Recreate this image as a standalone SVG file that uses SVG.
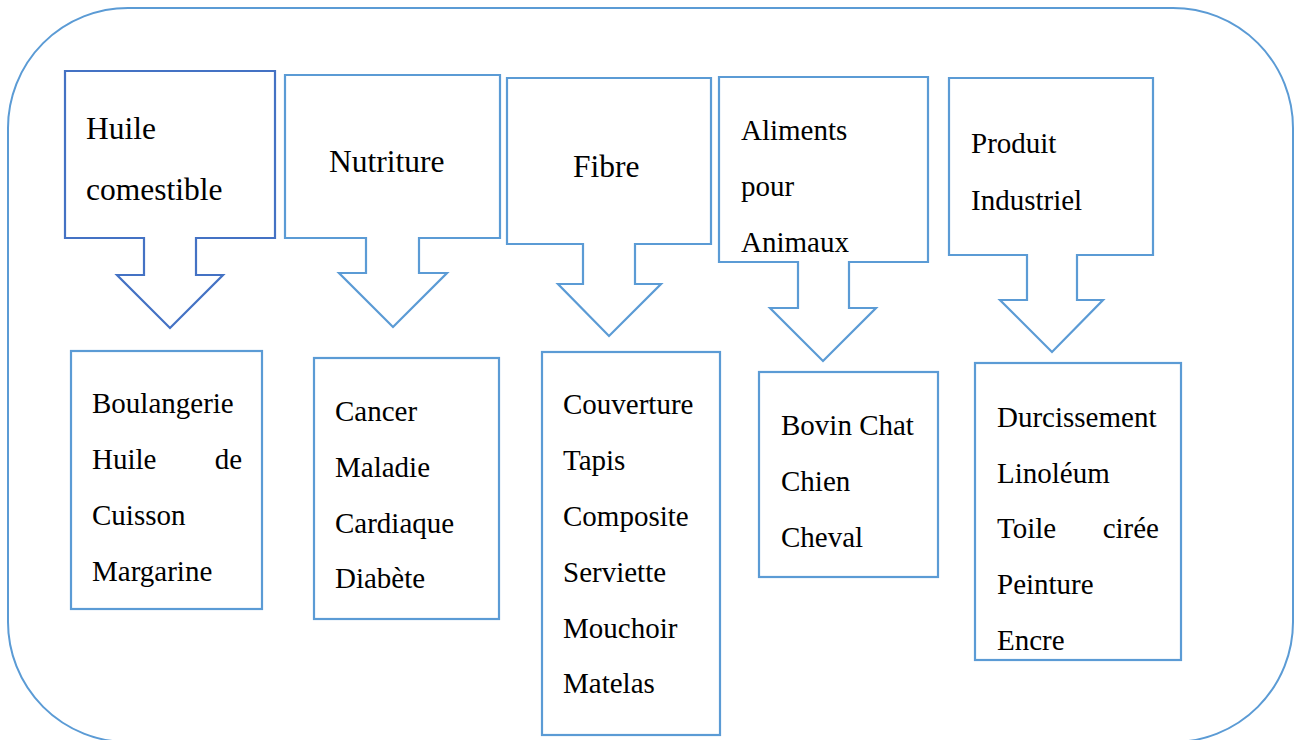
<svg xmlns="http://www.w3.org/2000/svg" width="1294" height="740" viewBox="0 0 1294 740">
<style>
.frame{fill:none;stroke:#5B9BD5;stroke-width:2}
.box{fill:#fff;stroke:#5B9BD5;stroke-width:2.2}
.dark{stroke:#4472C4}
.t{font-family:"Liberation Serif","Times New Roman",serif;font-size:29px;fill:#000}
.big{font-size:31.5px}
</style>
<rect class="frame" x="8" y="8" width="1285" height="734" rx="120" ry="120"/>
<g id="connectors"/>
<g id="callout-huile">
<path class="box dark" d="M65,71 H275 V238 H196 V275 H223 L170,328 L117,275 H144 V238 H65 Z"/>
<text class="t big" x="86" y="139">Huile</text>
<text class="t big" x="86" y="200">comestible</text>
</g>
<g id="callout-nutriture">
<path class="box" d="M285,75 H500 V238 H419 V273 H447 L393,327 L339,273 H366 V238 H285 Z"/>
<text class="t big" x="329" y="172">Nutriture</text>
</g>
<g id="callout-fibre">
<path class="box" d="M507,78 H711 V244 H635 V284 H661 L609,336 L558,284 H583 V244 H507 Z"/>
<text class="t big" x="573" y="177">Fibre</text>
</g>
<g id="callout-aliments">
<path class="box" d="M719,77 H928 V262 H849 V308 H876 L823,361 L770,308 H798 V262 H719 Z"/>
<text class="t" x="741" y="140">Aliments</text>
<text class="t" x="741" y="196">pour</text>
<text class="t" x="741" y="252">Animaux</text>
</g>
<g id="callout-produit">
<path class="box" d="M949,78 H1153 V255 H1077 V300 H1103 L1052,352 L1000,300 H1027 V255 H949 Z"/>
<text class="t" x="971" y="153">Produit</text>
<text class="t" x="971" y="210">Industriel</text>
</g>
<g id="box-huile">
<rect class="box" x="71" y="351" width="191" height="258"/>
<text class="t" x="92" y="413">Boulangerie</text>
<text class="t" x="92" y="469">Huile</text>
<text class="t" x="242" y="469" text-anchor="end">de</text>
<text class="t" x="92" y="525">Cuisson</text>
<text class="t" x="92" y="581">Margarine</text>
</g>
<g id="box-nutriture">
<rect class="box" x="314" y="358" width="185" height="261"/>
<text class="t" x="335" y="421">Cancer</text>
<text class="t" x="335" y="477">Maladie</text>
<text class="t" x="335" y="533">Cardiaque</text>
<text class="t" x="335" y="588">Diabète</text>
</g>
<g id="box-fibre">
<rect class="box" x="542" y="352" width="178" height="383"/>
<text class="t" x="563" y="414">Couverture</text>
<text class="t" x="563" y="470">Tapis</text>
<text class="t" x="563" y="526">Composite</text>
<text class="t" x="563" y="582">Serviette</text>
<text class="t" x="563" y="638">Mouchoir</text>
<text class="t" x="563" y="693">Matelas</text>
</g>
<g id="box-aliments">
<rect class="box" x="759" y="372" width="179" height="205"/>
<text class="t" x="781" y="435">Bovin Chat</text>
<text class="t" x="781" y="491">Chien</text>
<text class="t" x="781" y="547">Cheval</text>
</g>
<g id="box-produit">
<rect class="box" x="975" y="363" width="206" height="297"/>
<text class="t" x="997" y="427">Durcissement</text>
<text class="t" x="997" y="483">Linoléum</text>
<text class="t" x="997" y="538">Toile</text>
<text class="t" x="1159" y="538" text-anchor="end">cirée</text>
<text class="t" x="997" y="594">Peinture</text>
<text class="t" x="997" y="650">Encre</text>
</g>
</svg>
